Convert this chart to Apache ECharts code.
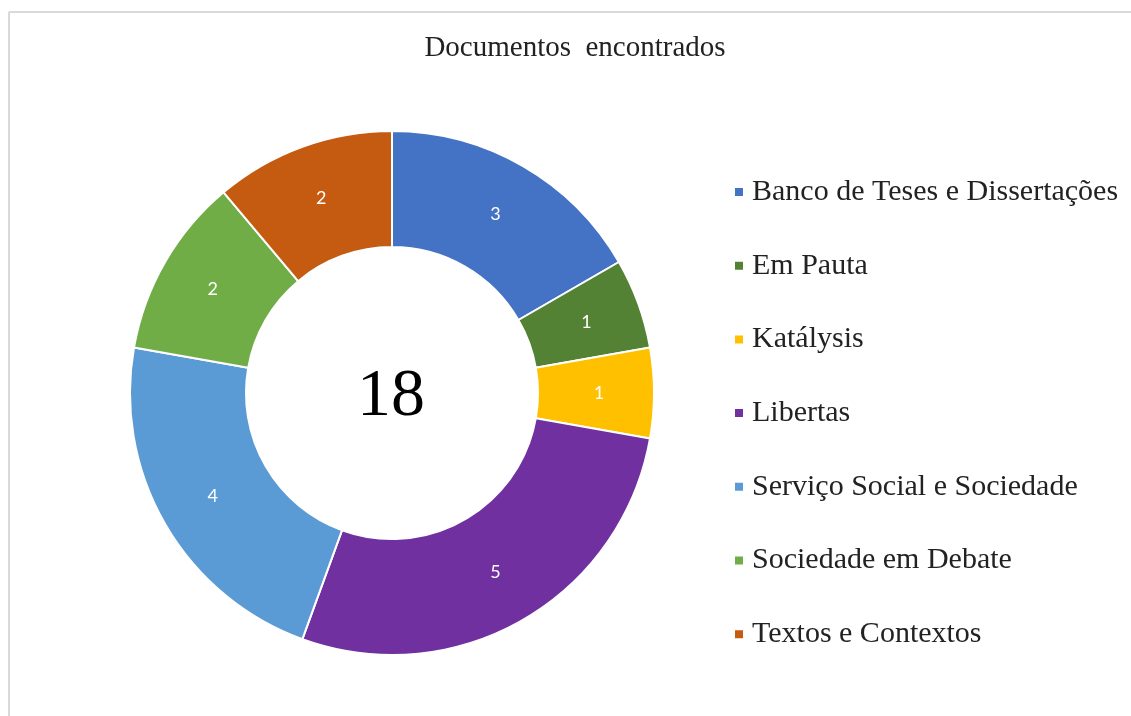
<!DOCTYPE html>
<html>
<head>
<meta charset="utf-8">
<script src="https://cdn.jsdelivr.net/npm/echarts@6/dist/echarts.min.js"></script>
<style>html,body{margin:0;padding:0;background:#fff;}#c{width:1131px;height:716px;}</style>
</head>
<body>
<div id="c"></div>
<script>
const categories = ['Banco de Teses e Dissertações','Em Pauta','Katálysis','Libertas','Serviço Social e Sociedade','Sociedade em Debate','Textos e Contextos'];
const values = [3,1,1,5,4,2,2];
const colors = ['#4472C4','#548235','#FFC000','#7030A0','#5B9BD5','#70AD47','#C55A11'];
const titleText = 'Documentos  encontrados';
const total = values.reduce((a,b)=>a+b,0);

const chart = echarts.init(document.getElementById('c'));
chart.setOption({
  backgroundColor: '#fff',
  animation: false,
  color: colors,
  legend: {
    orient: 'vertical',
    left: 728,
    top: 172,
    itemWidth: 10,
    itemHeight: 10,
    itemGap: 43.7,
    icon: 'rect',
    data: categories,
    textStyle: { fontFamily: 'Liberation Serif', fontSize: 30, color: '#222', lineHeight: 30, padding: [0, 0, 0, 3] }
  },
  graphic: [
    { type: 'line', shape: { x1: 9, y1: 12, x2: 1131, y2: 12 }, style: { stroke: '#d9d9d9', lineWidth: 2 } },
    { type: 'line', shape: { x1: 9, y1: 12, x2: 9, y2: 716 }, style: { stroke: '#d9d9d9', lineWidth: 2 } },
    { type: 'text', x: 575, y: 48, style: { text: titleText, fontFamily: 'Liberation Serif', fontSize: 29, fill: '#222', textAlign: 'center', textVerticalAlign: 'middle', align: 'center', verticalAlign: 'middle' } },
    { type: 'text', x: 391, y: 397, style: { text: String(total), fontFamily: 'Liberation Serif', fontSize: 68, fill: '#000', textAlign: 'center', textVerticalAlign: 'middle', align: 'center', verticalAlign: 'middle' } }
  ],
  series: [{
    type: 'pie',
    center: [392, 393],
    radius: [146, 262],
    startAngle: 90,
    clockwise: true,
    label: { show: true, position: 'inside', formatter: '{c}', color: '#fff', fontFamily: 'Lato', fontSize: 18 },
    labelLine: { show: false },
    itemStyle: { borderColor: '#fff', borderWidth: 2 },
    emphasis: { disabled: true },
    data: categories.map((n,i)=>({ name: n, value: values[i] }))
  }]
});
</script>
</body>
</html>
